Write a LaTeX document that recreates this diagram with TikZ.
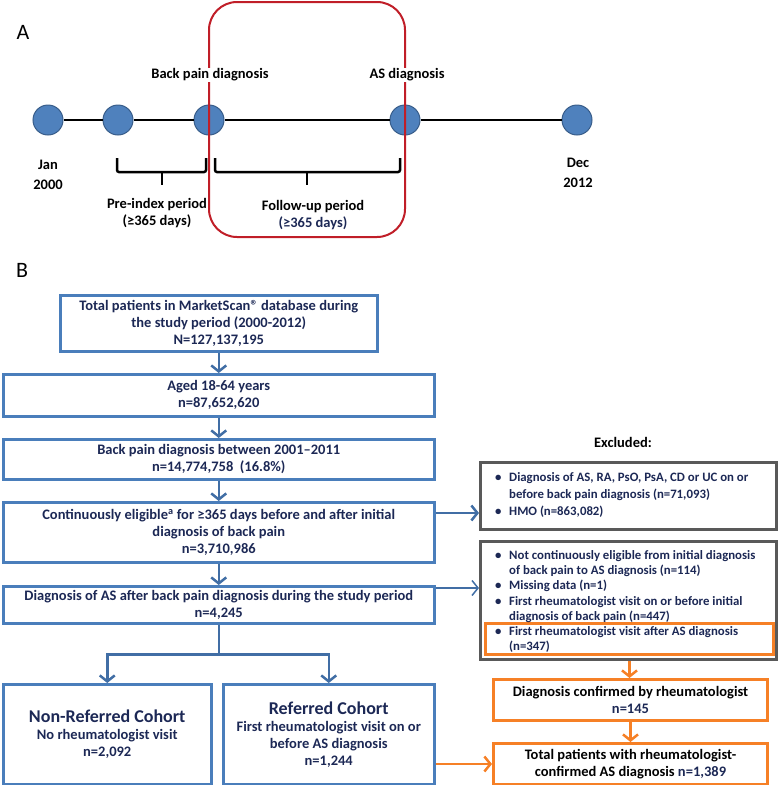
\documentclass[tikz,border=0pt]{standalone}
\usepackage{fontspec}
\setmainfont{Carlito}
\usetikzlibrary{arrows.meta}
\definecolor{boxblue}{RGB}{74,126,187}
\definecolor{arrblue}{RGB}{65,110,165}
\definecolor{navy}{RGB}{28,40,85}
\definecolor{exgrey}{RGB}{89,89,89}
\definecolor{orng}{RGB}{246,128,38}
\definecolor{redb}{RGB}{192,30,40}
\definecolor{dotfill}{RGB}{79,129,189}
\definecolor{dotedge}{RGB}{56,93,138}
\tikzset{
  dot/.style={circle, fill=dotfill, draw=dotedge, line width=1pt, minimum size=30pt, inner sep=0pt},
  tl/.style={font=\bfseries\fontsize{14.5}{17}\selectfont, text=black, align=center, inner sep=1pt},
  brace/.style={line width=2.5pt, rounded corners=2pt},
  fbox/.style={draw=boxblue, line width=2.5pt, text=navy, font=\bfseries\fontsize{14.5}{17}\selectfont, align=center, inner sep=0pt, anchor=north west},
  exbox/.style={draw=exgrey, line width=3pt, inner sep=0pt, anchor=north west},
  obox/.style={draw=orng, line width=3pt, text=black, font=\bfseries\fontsize{14.5}{16.5}\selectfont, align=center, inner sep=0pt, anchor=north west},
  extext/.style={text=navy, font=\bfseries\fontsize{12.8}{17}\selectfont, align=left, inner sep=0pt, anchor=west},
  arr/.style={draw=arrblue, line width=2.5pt, -{Straight Barb[length=6pt,width=15pt]}},
  arrthin/.style={draw=arrblue, line width=1.5pt, -{Straight Barb[length=6pt,width=15pt]}},
  oarr/.style={draw=orng, line width=2.5pt, -{Straight Barb[length=6pt,width=15pt]}},
  lbl/.style={font=\fontsize{22}{22}\selectfont, inner sep=0pt},
}
\begin{document}
\begin{tikzpicture}[x=1pt,y=-1pt]
\useasboundingbox (0,0) rectangle (777,785);
% ---------- Panel A ----------
\node[lbl] (A) at (23,32) {A};
\node[dot] (t1) at (48,120) {};
\node[dot] (t2) at (118,120) {};
\node[dot] (t3) at (209,120) {};
\node[dot] (t4) at (405,120) {};
\node[dot] (t5) at (577,120) {};
\draw[line width=2.5pt] (t1) -- (t2) (t2) -- (t3) (t3) -- (t4) (t4) -- (t5);
\draw[redb, line width=2pt, rounded corners=28pt] (209,2) rectangle (405,237);
\node[tl, fill=white] (bp) at (210,75) {Back pain diagnosis};
\node[tl, fill=white] (asd) at (407,75) {AS diagnosis};
\node[tl] (jan) at (48,175) {Jan\\[3pt]2000};
\node[tl] (dec) at (578,173) {Dec\\[3pt]2012};
\draw[brace] (117,158) -- (117,172) -- (206,172) -- (206,158);
\draw[line width=2.5pt] (162,172) -- (162,185);
\draw[brace] (215,158) -- (215,172) -- (400,172) -- (400,158);
\draw[line width=2.5pt] (307,172) -- (307,185);
\node[tl] (pre) at (157,213) {Pre-index period\\(≥365 days)};
\node[tl] (fu) at (313,215) {Follow-up period\\\textcolor{navy}{(≥365 days)}};
% ---------- Panel B ----------
\node[lbl] (B) at (22,270) {B};
\node[fbox, minimum width=317, minimum height=56] (b1) at (59,294)
  {Total patients in MarketScan® database during\\the study period (2000-2012)\\N=127,137,195};
\node[fbox, minimum width=431, minimum height=42] (b2) at (2,373)
  {Aged 18-64 years\\n=87,652,620};
\node[fbox, minimum width=431, minimum height=40] (b3) at (2,438)
  {Back pain diagnosis between 2001–2011\\n=14,774,758\ \ (16.8\%)};
\node[fbox, minimum width=431, minimum height=60] (b4) at (2,501)
  {Continuously eligible\textsuperscript{a} for ≥365 days before and after initial\\diagnosis of back pain\\n=3,710,986};
\node[fbox, minimum width=431, minimum height=37] (b5) at (2,585)
  {Diagnosis of AS after back pain diagnosis during the study period\\n=4,245};
\node[fbox, minimum width=208, minimum height=100] (b6) at (2,683)
  {{\fontsize{18}{20}\selectfont Non-Referred Cohort}\\No rheumatologist visit\\n=2,092};
\node[fbox, minimum width=211, minimum height=100] (b7) at (222,683)
  {{\fontsize{18}{20}\selectfont Referred Cohort}\\First rheumatologist visit on or\\before AS diagnosis\\n=1,244};
\draw[arr] (b1) -- (b2);
\draw[arr] (b2) -- (b3);
\draw[arr] (b3) -- (b4);
\draw[arr] (b4) -- (b5);
\draw[draw=arrblue, line width=2.5pt] (b5.south) -- ++(0,30) coordinate (sp);
\draw[arr] (sp) -| (b6.north);
\draw[arr] (sp) -| (b7.north);
% Excluded
\node[tl] (exl) at (623,442) {Excluded:};
\node[exbox, minimum width=296, minimum height=67] (ex1) at (479,461) {};
\node[extext] (ex1t) at (495,495) {\makebox[14pt][l]{\textbullet}Diagnosis of AS, RA, PsO, PsA, CD or UC on or\\\hspace*{14pt}before back pain diagnosis (n=71,093)\\\makebox[14pt][l]{\textbullet}HMO (n=863,082)};
\node[exbox, minimum width=296, minimum height=118] (ex2) at (479,540) {};
\node[obox, minimum width=288, minimum height=31] (exo) at (484,622) {};
\node[extext, font=\bfseries\fontsize{12.8}{15.2}\selectfont] (ex2t) at (495,601.5) {\makebox[14pt][l]{\textbullet}Not continuously eligible from initial diagnosis\\\hspace*{14pt}of back pain to AS diagnosis (n=114)\\\makebox[14pt][l]{\textbullet}Missing data (n=1)\\\makebox[14pt][l]{\textbullet}First rheumatologist visit on or before initial\\\hspace*{14pt}diagnosis of back pain (n=447)\\\makebox[14pt][l]{\textbullet}First rheumatologist visit after AS diagnosis\\\hspace*{14pt}(n=347)};
\draw[arr] (b4.east |- 0,513) -- (ex1.west |- 0,513);
\draw[arrthin] (b5.east |- 0,588) -- (ex2.west |- 0,588);
% Orange
\node[obox, minimum width=274, minimum height=41] (diag) at (492,678)
  {Diagnosis confirmed by rheumatologist\\\textcolor{navy}{n=145}};
\node[obox, minimum width=274, minimum height=41] (tot) at (492,742)
  {Total patients with rheumatologist-\\confirmed AS diagnosis \textcolor{navy}{n=1,389}};
\draw[oarr] (ex2.south -| exo.south) -- (diag.north -| exo.south);
\draw[oarr] (diag) -- (tot);
\draw[oarr] (b7.east |- tot.west) -- (tot.west);
\end{tikzpicture}
\end{document}
